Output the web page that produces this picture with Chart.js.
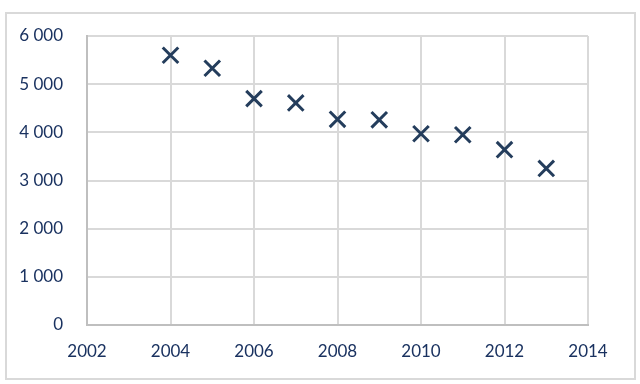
<!DOCTYPE html>
<html>
<head>
<meta charset="utf-8">
<script src="https://cdn.jsdelivr.net/npm/chart.js@4.4.0/dist/chart.umd.min.js"></script>
<style>
  html, body { margin: 0; padding: 0; background: #fff; }
  #wrap { position: relative; width: 640px; height: 384px; }
  #frame { position: absolute; left: 5px; top: 12px; width: 627px; height: 364px; border: 2px solid #d9d9d9; pointer-events: none; }
  canvas { position: absolute; left: 0; top: 0; }
</style>
</head>
<body>
<div id="wrap">
  <canvas id="c" width="640" height="384"></canvas>
  <div id="frame"></div>
</div>
<script>
// valeurs
const years = [2004, 2005, 2006, 2007, 2008, 2009, 2010, 2011, 2012, 2013];
const values = [5600, 5330, 4700, 4610, 4270, 4260, 3970, 3950, 3640, 3250];
const xMin = 2002, xMax = 2014, xStep = 2;
const yMin = 0, yMax = 6000, yStep = 1000;

const navy = '#1a3260';
const markerColor = '#243d5c';

function fmt(v) {
  return String(v).replace(/\B(?=(\d{3})+(?!\d))/g, ' ');
}

new Chart(document.getElementById('c'), {
  type: 'scatter',
  data: {
    datasets: [{
      data: years.map((y, i) => ({ x: y, y: values[i] })),
      pointStyle: 'crossRot',
      pointRadius: 11,
      pointBorderWidth: 3,
      borderColor: markerColor,
      backgroundColor: markerColor
    }]
  },
  options: {
    responsive: false,
    animation: false,
    layout: { padding: { left: 0, right: 52, top: 36, bottom: 0 } },
    plugins: { legend: { display: false }, tooltip: { enabled: false } },
    scales: {
      x: {
        min: xMin, max: xMax,
        ticks: { stepSize: xStep, color: navy, font: { family: 'Lato', size: 17 }, padding: 16, callback: v => String(v) },
        grid: { color: '#d9d9d9', lineWidth: 2, drawTicks: false },
        border: { color: '#bfbfbf', width: 2 },
        afterFit: s => { s.height = 59; }
      },
      y: {
        min: yMin, max: yMax,
        ticks: { stepSize: yStep, color: navy, font: { family: 'Lato', size: 17 }, padding: 24, callback: v => fmt(v) },
        grid: { color: '#d9d9d9', lineWidth: 2, drawTicks: false },
        border: { color: '#bfbfbf', width: 2 },
        afterFit: s => { s.width = 87; }
      }
    }
  }
});
</script>
</body>
</html>
